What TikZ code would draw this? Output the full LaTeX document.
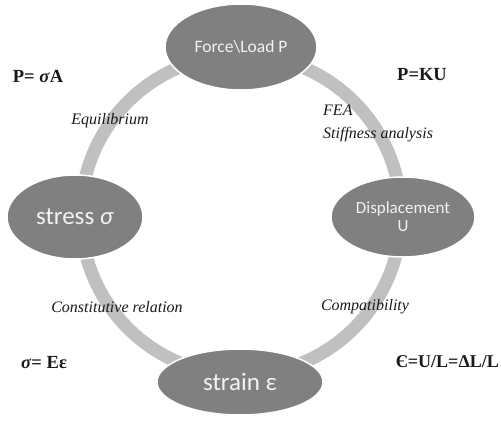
\documentclass[tikz,border=0pt]{standalone}
\usepackage{fontspec}
\usetikzlibrary{shapes.geometric}
\setmainfont{Liberation Serif}
\newfontfamily\carl{Carlito}
\definecolor{ringgray}{HTML}{C0C0C0}
\definecolor{ellgray}{HTML}{808080}
\definecolor{elltext}{HTML}{F2F2F2}
\definecolor{labtext}{HTML}{1A1A1A}
\begin{document}
\begin{tikzpicture}[x=1pt,y=-1pt,
  stage/.style={ellipse, fill=ellgray, draw=white, line width=1.5pt, text=elltext, inner sep=0pt, align=center},
  rel/.style={text=labtext, font=\fontsize{16}{18}\selectfont\itshape, inner sep=0pt},
  eqn/.style={text=labtext, font=\fontsize{18.5}{20}\selectfont\bfseries, inner sep=0pt}]
\useasboundingbox (0,0) rectangle (501,421);
\coordinate (c) at (241,215);
\draw[ringgray, line width=13pt] (c) circle (160);
\node[stage, minimum width=152, minimum height=86, font=\carl\fontsize{17.5}{19}\selectfont] (force) at (241,47) {Force\textbackslash Load P};
\node[stage, minimum width=136, minimum height=84, font=\carl\fontsize{25}{27}\selectfont] (stress) at (75,217) {stress \textit{σ}};
\node[stage, minimum width=144, minimum height=80, font=\carl\fontsize{17}{18}\selectfont] (disp) at (403,217) {Displacement\\U};
\node[stage, minimum width=166, minimum height=66, font=\carl\fontsize{25}{27}\selectfont] (strain) at (240,382) {strain ε};
\node[eqn] (pa) at (38,76) {P= \textit{σ}A};
\node[rel] (equil) at (110,121) {Equilibrium};
\node[eqn] (pku) at (422,75) {P=KU};
\node[rel, anchor=west] (fea) at (323,110) {FEA};
\node[rel, anchor=west] (stiff) at (323,135) {Stiffness analysis};
\node[rel] (const) at (117,307) {Constitutive relation};
\node[eqn] (se) at (44,363) {\textit{σ}= Eε};
\node[rel] (compat) at (365,307) {Compatibility};
\node[eqn, anchor=east, font=\fontsize{18}{20}\selectfont\bfseries] (eps) at (499,362) {Є=U/L=ΔL/L};
\end{tikzpicture}
\end{document}
